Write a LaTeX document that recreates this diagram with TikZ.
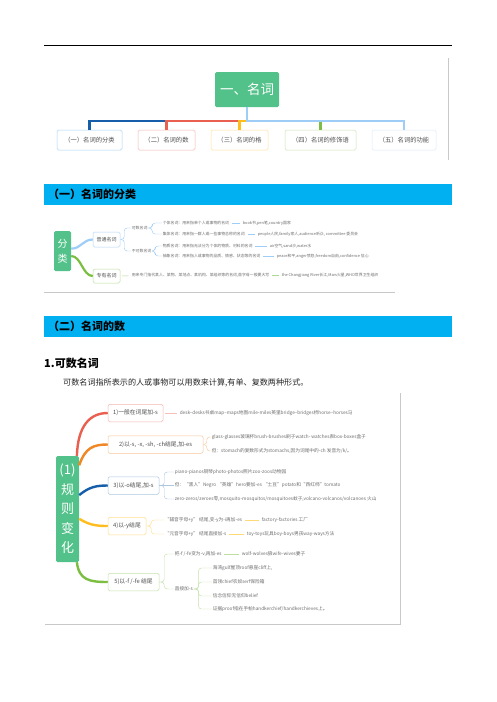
\documentclass[tikz,border=0pt]{standalone}
\usepackage{fontspec}
\setmainfont{Noto Sans CJK SC}
\usetikzlibrary{positioning,calc}

\definecolor{mint}{RGB}{82,194,138}
\definecolor{headcyan}{RGB}{0,176,240}
\definecolor{deepblue}{RGB}{22,94,170}
\definecolor{tomato}{RGB}{233,96,80}
\definecolor{tangerine}{RGB}{240,134,36}
\definecolor{amber}{RGB}{255,190,30}
\definecolor{leafgreen}{RGB}{124,190,66}
\definecolor{skyblue}{RGB}{158,205,247}
\definecolor{inktext}{RGB}{80,80,80}
\definecolor{leaftext}{RGB}{110,110,110}
\definecolor{framegray}{RGB}{200,200,200}

\tikzset{
  topic/.style    = {fill=mint, rounded corners=1.5pt, text=white, align=center, inner sep=0pt},
  subtopic/.style = {draw=#1, fill=white, rounded corners=1.5pt, line width=0.5pt, text=inktext, inner sep=0pt},
  chip/.style     = {minimum width=#1, minimum height=20pt, font=\fontsize{6.3}{7.5}\selectfont},
  branchbox/.style= {minimum width=#1, minimum height=17.5pt, font=\fontsize{5.8}{7}\selectfont},
  leaf/.style     = {anchor=west, inner sep=0.6pt, text=leaftext, font=\fontsize{4.7}{5.5}\selectfont},
  tinyleaf/.style = {anchor=west, inner sep=0.6pt, text=leaftext, font=\fontsize{3.9}{4.6}\selectfont},
  branch/.style   = {draw=#1, line width=2.4pt},
  twig/.style     = {draw=#1, line width=0.45pt, rounded corners=3pt},
  link/.style     = {draw=#1, line width=0.45pt, shorten <=2.5pt, shorten >=2pt},
  banner/.style   = {fill=headcyan, anchor=north west, text width=400pt, inner xsep=4pt, inner ysep=0pt,
                     minimum height=21pt, font=\bfseries\fontsize{11}{13}\selectfont},
  pageline/.style = {draw=framegray, line width=0.6pt}
}

\begin{document}
\begin{tikzpicture}[x=1pt, y=-1pt]
  \fill[white] (0,0) rectangle (496,702);
  \useasboundingbox (0,0) rectangle (496,702);
  \draw[line width=0.8pt] (44,45) -- (452,45);

  % overview
  \draw[pageline] (448,58) -- (448,160);
  \node[topic, minimum width=64pt, minimum height=35pt, font=\fontsize{13.5}{15}\selectfont] (noun) at (247,89.5) {一、名词};
  \node[subtopic=skyblue!90, chip=65pt] (kinds) at (89.5,140) {（一）名词的分类};
  \node[subtopic=tomato!45, chip=57pt] (number) at (166.5,140) {（二）名词的数};
  \node[subtopic=amber!45, chip=57pt] (case) at (239.5,140) {（三）名词的格};
  \node[subtopic=leafgreen!40, chip=71pt] (modifier) at (320.5,140) {（四）名词的修饰语};
  \node[subtopic=skyblue!40, chip=64pt] (function) at (404,140) {（五）名词的功能};
  \coordinate (hub) at (247,121);
  \draw[branch=deepblue] (noun.south) -- (hub) -| (kinds.north);
  \draw[branch=tomato] (noun.south) -- (hub) -| (number.north);
  \draw[branch=amber] (noun.south) -- (hub) -| (case.north);
  \draw[branch=leafgreen] (noun.south) -- (hub) -| (modifier.north);
  \draw[branch=skyblue] (noun.south) -- (hub) -| (function.north);

  % kinds of nouns
  \node[banner] (kinds banner) at (44,184) {（一）名词的分类};
  \node[topic, minimum width=17pt, minimum height=40pt, font=\fontsize{10}{15}\selectfont] (split) at (62.5,251) {分\\类};
  \node[subtopic=skyblue!80, minimum width=27pt, minimum height=15pt, font=\fontsize{5}{6}\selectfont] (common) at (106.5,239.5) {普通名词};
  \node[subtopic=leafgreen!50, minimum width=27pt, minimum height=14pt, font=\fontsize{5}{6}\selectfont] (proper) at (106.5,276) {专有名词};
  \draw[branch=skyblue, line width=2.2pt] (split.15) .. controls +(10,0) and +(-10,0) .. (common.west);
  \draw[branch=leafgreen, line width=2.2pt] (split.-30) .. controls +(10,0) and +(-10,0) .. (proper.west);

  \node[tinyleaf] (countable) at (131,228) {可数名词};
  \node[tinyleaf] (uncountable) at (131,251) {不可数名词};
  \draw[twig=skyblue] (common.east) -- ++(4,0) |- (countable.west);
  \draw[twig=skyblue] (common.east) -- ++(4,0) |- (uncountable.west);
  \node[tinyleaf] (individual) at (162,223) {个体名词：用来指单个人或事物的名词};
  \node[tinyleaf] (collective) at (162,234) {集体名词：用来指一群人或一些事物总称的名词};
  \node[tinyleaf] (material) at (162,246) {物质名词：用来指无法分为个体的物质、材料的名词};
  \node[tinyleaf] (abstract) at (162,256) {抽象名词：用来指人或事物的品质、情感、状态等的名词};
  \draw[twig=skyblue] (countable.east) -- ++(4,0) |- (individual.west);
  \draw[twig=skyblue] (countable.east) -- ++(4,0) |- (collective.west);
  \draw[twig=skyblue] (uncountable.east) -- ++(3,0) |- (material.west);
  \draw[twig=skyblue] (uncountable.east) -- ++(3,0) |- (abstract.west);
  \node[tinyleaf] (ex individual) at (242,223) {book书,pen笔,country国家} edge[link=skyblue] (individual);
  \node[tinyleaf] (ex collective) at (257,234) {people人民,family家人,audience听众, committee 委员会} edge[link=skyblue] (collective);
  \node[tinyleaf] (ex material) at (269,246) {air空气,sand沙,water水} edge[link=skyblue] (material);
  \node[tinyleaf] (ex abstract) at (276,256) {peace和平,anger愤怒,freedom自由,confidence 信心} edge[link=skyblue] (abstract);
  \node[tinyleaf] (proper def) at (131,275) {用来专门指代某人、某物、某地点、某机构、某组织等的名词,首字母一般要大写} edge[link=leafgreen!60] (proper);
  \node[tinyleaf] (ex proper) at (281,275) {the Changjiang River长江,Mars火星,WHO世界卫生组织} edge[link=leafgreen!60] (proper def);
  \draw[pageline] (44,292) -- (395,292);

  % number of nouns
  \node[banner] (number banner) at (44,316) {（二）名词的数};
  \node[anchor=west, inner sep=0pt, font=\bfseries\fontsize{11}{13}\selectfont] (countable title) at (44,363) {1.可数名词};
  \node[anchor=west, inner sep=0pt, text=black!85, font=\fontsize{8.1}{10}\selectfont] (intro) at (63,383) {可数名词指所表示的人或事物可以用数来计算,有单、复数两种形式。};

  \draw[pageline] (400,393) -- (400,624) -- (45,624);
  \node[topic, minimum width=23pt, minimum height=106pt, font=\fontsize{13}{19.5}\selectfont] (regular) at (67.5,509) {(1)\\规\\则\\变\\化};
  \node[subtopic=tomato!45, branchbox=55pt] (rule s) at (135.5,413) {1)一般在词尾加-s};
  \node[subtopic=tangerine!45, branchbox=95pt] (rule es) at (155.5,444.5) {2)以-s, -x, -sh, -ch结尾,加-es};
  \node[subtopic=deepblue!35, branchbox=51pt] (rule o) at (133.5,485.5) {3)以-o结尾,加-s};
  \node[subtopic=amber!50, branchbox=38pt] (rule y) at (127,526) {4)以-y结尾};
  \node[subtopic=leafgreen!45, branchbox=51pt] (rule f) at (133.5,582) {5)以-f /-fe 结尾};
  \draw[branch=tomato] (regular.80) .. controls +(1,-30) and +(-18,0) .. (rule s.west);
  \draw[branch=tangerine] (regular.75) .. controls +(6,-18) and +(-14,0) .. (rule es.west);
  \draw[branch=deepblue] (regular.50) .. controls +(10,-8) and +(-12,0) .. (rule o.west);
  \draw[branch=amber] (regular.-40) .. controls +(10,6) and +(-12,0) .. (rule y.west);
  \draw[branch=leafgreen] (regular.-80) .. controls +(2,18) and +(-18,0) .. (rule f.west);

  \node[leaf] (plural s) at (179,413) {desk--desks书桌map--maps地图mile-miles英里bridge--bridges桥horse--horses马} edge[link=tomato!40] (rule s);

  \node[leaf] (es words) at (211,437) {glass-glasses玻璃杯brush-brushes刷子watch- watches表box-boxes盒子};
  \node[leaf] (es except) at (211,451) {但：stomach的复数形式为stomachs,因为词尾中的-ch 发音为/k/。};
  \draw[twig=tangerine!45] (rule es.east) -- ++(3.5,0) |- (es words.west);
  \draw[twig=tangerine!45] (rule es.east) -- ++(3.5,0) |- (es except.west);

  \node[leaf] (o words) at (174,472) {piano-pianos钢琴photo-photos照片zoo-zoos动物园};
  \node[leaf] (o except) at (174,485.5) {但：“黑人”Negro “英雄”hero要加-es “土豆”potato和“西红柿”tomato};
  \node[leaf] (o both) at (174,499) {zero-zeros/zeroes零,mosquito-mosquitos/mosquitoes蚊子,volcano-volcanos/volcanoes 火山};
  \draw[twig=deepblue!35] (rule o.east) -- ++(5,0) |- (o words.west);
  \draw[twig=deepblue!35] (rule o.east) -- (o except.west);
  \draw[twig=deepblue!35] (rule o.east) -- ++(5,0) |- (o both.west);

  \node[leaf] (y consonant) at (164,520) {“辅音字母+y” 结尾,变-y为-i再加-es};
  \node[leaf] (y vowel) at (164,534) {“元音字母+y” 结尾直接加-s};
  \draw[twig=amber!50] (rule y.east) -- ++(5,0) |- (y consonant.west);
  \draw[twig=amber!50] (rule y.east) -- ++(5,0) |- (y vowel.west);
  \node[leaf] (ex consonant) at (261,520) {factory-factories 工厂} edge[link=amber!60] (y consonant);
  \node[leaf] (ex vowel) at (246,534) {toy-toys玩具boy-boys男孩way-ways方法} edge[link=amber!60] (y vowel);

  \node[leaf] (f to v) at (174,554) {把-f /-fe变为-v,再加-es};
  \node[leaf] (f plus s) at (174,589) {直接加-s};
  \draw[twig=leafgreen!45] (rule f.east) -- ++(5,0) |- (f to v.west);
  \draw[twig=leafgreen!45] (rule f.east) -- ++(5,0) |- (f plus s.west);
  \node[leaf] (ex f to v) at (241,554) {wolf-wolves狼wife-wives妻子} edge[link=leafgreen!50] (f to v);
  \node[leaf] (gulf) at (212,568) {海湾gulf屋顶roof悬崖cliff上,};
  \node[leaf] (chief) at (212,582) {首领chief农奴serf保险箱};
  \node[leaf] (belief) at (212,596) {信念信仰无信仰belief};
  \node[leaf] (proof) at (212,609) {证据proof指在手帕handkerchief/handkerchieves上。};
  \draw[twig=leafgreen!45] (f plus s.east) -- ++(5,0) |- (gulf.west);
  \draw[twig=leafgreen!45] (f plus s.east) -- ++(5,0) |- (chief.west);
  \draw[twig=leafgreen!45] (f plus s.east) -- ++(5,0) |- (belief.west);
  \draw[twig=leafgreen!45] (f plus s.east) -- ++(5,0) |- (proof.west);
\end{tikzpicture}
\end{document}
